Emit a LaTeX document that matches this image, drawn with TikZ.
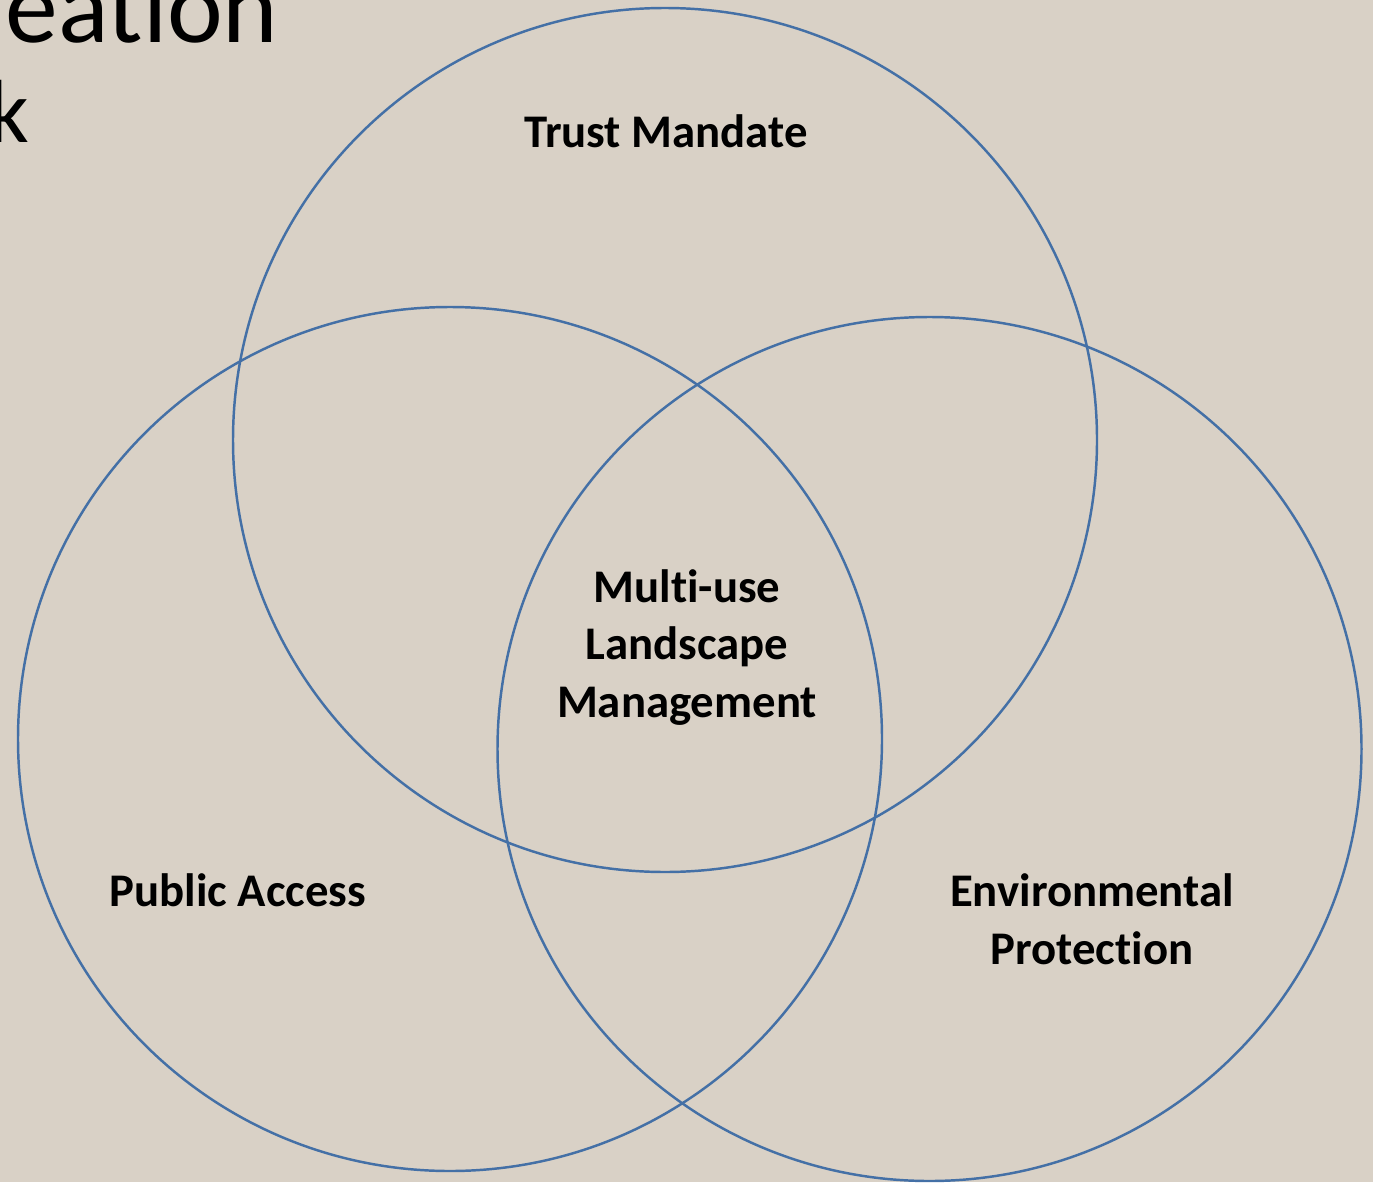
\documentclass[tikz,border=0pt]{standalone}
\usepackage{fontspec}
\setmainfont{Carlito}[Ligatures=NoCommon]
\definecolor{paper}{RGB}{217,209,198}
\definecolor{ringblue}{RGB}{68,112,166}
\begin{document}
\begin{tikzpicture}[x=0.01cm,y=-0.01cm,
	ring/.style={ringblue,line width=0.7pt},
	lbl/.style={font=\bfseries\fontsize{13.3}{16.3}\selectfont,align=center,inner sep=0pt,anchor=base},
	ttl/.style={inner sep=0pt,anchor=base east}]
	\def\rad{432}
	\path[fill=paper] (0,0) rectangle (1373,1182);
	\clip (0,0) rectangle (1373,1182);

	% cut off slide title
	\node[ttl,font=\fontsize{30}{36}\selectfont] (title) at (279,43) {eation};
	\node[ttl,font=\fontsize{25.5}{30}\selectfont] (subtitle) at (30,143) {k};

	\draw[ring] (665,440) circle[radius=\rad];
	\draw[ring] (450,739) circle[radius=\rad];
	\draw[ring] (929.5,749) circle[radius=\rad];

	% base anchor sits on the last line
	\node[lbl] (trust) at (666,148) {Trust Mandate};
	\node[lbl] (public) at (238,906) {Public Access};
	\node[lbl] (environ) at (1092,964) {Environmental\\Protection};
	\node[lbl] (multi) at (687,717) {Multi-use\\Landscape\\Management};
\end{tikzpicture}
\end{document}
